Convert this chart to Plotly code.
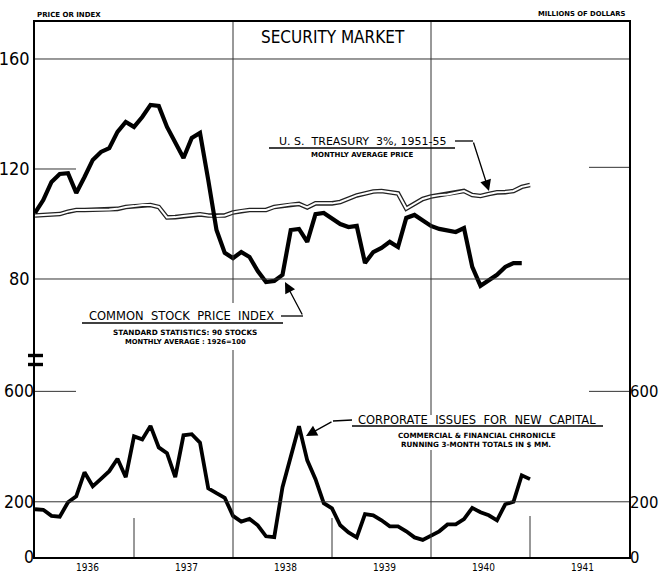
import plotly.graph_objects as go

# ---------------- data (monthly, starting January 1936) ----------------
start_year = 1936
year_labels = [1936, 1937, 1938, 1939, 1940, 1941]

stock_index = [104.0, 108.7, 115.3, 118.2, 118.5, 111.3, 117.1, 123.3, 126.2, 127.6, 133.5, 137.1,
               135.3, 138.9, 143.3, 142.9, 135.3, 129.8, 124.0, 131.3, 133.1, 116.0, 97.8, 89.5,
               87.6, 89.8, 88.0, 82.9, 78.9, 79.3, 81.5, 97.8, 98.2, 93.5, 103.6, 104.0,
               101.8, 100.0, 98.9, 99.3, 85.8, 89.8, 91.3, 93.5, 91.6, 102.2, 103.3, 101.5,
               99.3, 98.2, 97.5, 97.1, 98.5, 84.4, 77.5, 79.6, 81.5, 84.4, 85.8, 85.8]

treasury_price = [103.1, 103.3, 103.5, 103.6, 104.5, 105.1, 105.1, 105.1, 105.1, 105.3, 105.5, 106.2,
                  106.5, 106.9, 106.9, 106.2, 102.4, 102.5, 102.9, 103.3, 103.5, 103.1, 102.9, 103.1,
                  104.2, 104.7, 105.1, 105.1, 105.1, 106.2, 106.7, 107.1, 107.3, 106.0, 107.5, 107.5,
                  107.5, 108.0, 109.3, 110.4, 111.1, 111.8, 112.0, 111.6, 111.1, 105.6, 107.3, 109.1,
                  110.0, 110.5, 110.7, 111.3, 112.0, 110.5, 110.2, 110.9, 111.5, 111.6, 112.0, 113.5,
                  114.2]

corporate_issues = [173, 171, 149, 146, 198, 220, 307, 256, 283, 311, 356, 289,
                    437, 426, 475, 397, 376, 289, 441, 445, 414, 249, 231, 214,
                    149, 128, 138, 115, 75, 72, 253, 358, 474, 350, 282, 195,
                    176, 115, 89, 71, 155, 151, 133, 111, 111, 93, 71, 62,
                    79, 93, 118, 118, 137, 178, 162, 151, 133, 191, 200, 296,
                    282]

left_top_ticks = [80, 120, 160]
money_ticks = [0, 200, 600]


def months(n):
    return [start_year + i / 12 for i in range(n)]


# ---------------- geometry helpers (pixel -> paper) ----------------
W, H = 659, 576
L, R, T, B = 35, 629, 22, 557


def px(x):
    return (x - L) / (R - L)


def py(y):
    return (B - y) / (B - T)


fig = go.Figure()

# Treasury: double (outlined) line
fig.add_trace(go.Scatter(x=months(len(treasury_price)), y=treasury_price, mode="lines",
                         line=dict(color="#222222", width=4.6), hoverinfo="skip", showlegend=False))
fig.add_trace(go.Scatter(x=months(len(treasury_price)), y=treasury_price, mode="lines",
                         line=dict(color="white", width=2.0), hoverinfo="skip", showlegend=False))
# Common stock index
fig.add_trace(go.Scatter(x=months(len(stock_index)), y=stock_index, mode="lines",
                         line=dict(color="black", width=4.2), showlegend=False))
# Corporate issues
fig.add_trace(go.Scatter(x=months(len(corporate_issues)), y=corporate_issues, mode="lines",
                         yaxis="y2", line=dict(color="black", width=3.8), showlegend=False))
# invisible trace to anchor right axis
fig.add_trace(go.Scatter(x=months(len(corporate_issues)), y=corporate_issues, mode="lines",
                         yaxis="y3", line=dict(color="rgba(0,0,0,0)", width=0),
                         hoverinfo="skip", showlegend=False))

cond = "DejaVu Sans Condensed, Liberation Sans Narrow, sans-serif"
num_font = dict(family=cond, size=18, color="black")

fig.update_layout(
    width=W, height=H,
    margin=dict(l=L, r=W - R, t=T, b=H - B, autoexpand=False),
    paper_bgcolor="white", plot_bgcolor="white",
    xaxis=dict(range=[1936, 1942], showgrid=False, zeroline=False,
               showline=True, mirror=True, linecolor="black", linewidth=1.5,
               tickvals=[y + 0.53 for y in year_labels], ticktext=[str(y) for y in year_labels],
               ticks="", tickfont=dict(family=cond, size=10, color="black")),
    yaxis=dict(range=[-21.09, 173.45], showgrid=False, zeroline=False,
               showline=True, mirror=True, linecolor="black", linewidth=1.5,
               tickvals=left_top_ticks, ticktext=[str(v) for v in left_top_ticks],
               ticks="", tickfont=num_font),
    yaxis2=dict(range=[0, 1938], overlaying="y", side="left", showgrid=False, zeroline=False,
                showline=False, tickvals=money_ticks, ticktext=[str(v) for v in money_ticks],
                ticks="", tickfont=dict(num_font, size=17.5)),
    yaxis3=dict(range=[0, 1938], overlaying="y", side="right", showgrid=False, zeroline=False,
                showline=False, tickvals=money_ticks, ticktext=[str(v) for v in money_ticks],
                ticks="", tickfont=dict(num_font, size=16.5)),
)

grid = dict(color="#333333", width=1)
shapes = []
# full-width horizontal grid lines
for v in (80, 160):
    shapes.append(dict(type="line", xref="paper", yref="y", x0=0, x1=1, y0=v, y1=v, line=grid))
shapes.append(dict(type="line", xref="paper", yref="y2", x0=0, x1=1, y0=200, y1=200, line=grid))
# short horizontal ticks
shapes.append(dict(type="line", xref="paper", yref="y", x0=0, x1=px(76), y0=120, y1=120, line=grid))
shapes.append(dict(type="line", xref="paper", yref="y", x0=px(589), x1=1, y0=120.6, y1=120.6, line=grid))
shapes.append(dict(type="line", xref="paper", yref="y2", x0=0, x1=px(76), y0=600, y1=600, line=grid))
shapes.append(dict(type="line", xref="paper", yref="y3", x0=px(589), x1=1, y0=600, y1=600, line=grid))
# vertical grid lines (with gaps behind labels)
for (yr, segs) in ((1938, [(22, 303), (350, 557)]), (1940, [(22, 415), (450, 557)])):
    for a, b in segs:
        shapes.append(dict(type="line", xref="x", yref="paper", x0=yr, x1=yr, y0=py(a), y1=py(b), line=grid))
# short vertical ticks at base
for yr, top in ((1937, 518), (1939, 518), (1941, 516)):
    shapes.append(dict(type="line", xref="x", yref="paper", x0=yr, x1=yr, y0=py(top), y1=0, line=grid))
# scale-break marks
for yy in (355.5, 364.5):
    shapes.append(dict(type="rect", xref="paper", yref="paper", x0=px(28), x1=px(43),
                       y0=py(yy + 1.7), y1=py(yy - 1.7), fillcolor="black", line=dict(width=0)))
# label underlines and connectors
lbl = dict(color="black", width=1.3)
for (x0, y0, x1, y1) in ((269, 148, 455, 148), (455, 141, 473, 141),
                         (82, 323, 283, 323), (281, 316, 303, 316),
                         (352, 426, 603, 426), (333, 421, 352, 420)):
    shapes.append(dict(type="line", xref="paper", yref="paper", x0=px(x0), x1=px(x1),
                       y0=py(y0), y1=py(y1), line=lbl))
fig.update_layout(shapes=shapes)

ann_font = "DejaVu Sans, Liberation Sans, sans-serif"


def text(x, y, s, size, anchor="center", bold=False, family=ann_font):
    fig.add_annotation(x=px(x), y=py(y), xref="paper", yref="paper", showarrow=False,
                       text=("<b>%s</b>" % s) if bold else s, xanchor=anchor, yanchor="middle",
                       font=dict(family=family, size=size, color="black"))


def arrow(tx, ty, hx, hy):
    fig.add_annotation(x=px(hx), y=py(hy), xref="paper", yref="paper", text="",
                       showarrow=True, ax=tx - hx, ay=ty - hy, arrowhead=2, arrowsize=1.7,
                       arrowwidth=1.3, arrowcolor="black", standoff=0)


text(35, 15, "PRICE OR INDEX", 7, anchor="left", bold=True)
text(628, 14, "MILLIONS OF DOLLARS", 6.8, anchor="right", bold=True)
text(333, 37, "SECURITY MARKET", 17, family=cond)

text(362, 141, "U. S.  TREASURY  3%, 1951-55", 11)
text(362, 155, "MONTHLY AVERAGE PRICE", 7, bold=True)
arrow(473, 141, 489, 191)

text(181, 316, "COMMON  STOCK  PRICE  INDEX", 11.5)
text(185, 332, "STANDARD STATISTICS: 90 STOCKS", 7.3, bold=True)
text(185, 342, "MONTHLY AVERAGE : 1926=100", 6.8, bold=True)
arrow(303, 316, 285, 282)

text(477, 420, "CORPORATE  ISSUES  FOR  NEW  CAPITAL", 11.5)
text(477, 435, "COMMERCIAL &amp; FINANCIAL CHRONICLE", 7.2, bold=True)
text(476, 445, "RUNNING 3-MONTH TOTALS IN $ MM.", 7.2, bold=True)
arrow(333, 421, 306, 436)

fig.write_html("out.html", config={"displayModeBar": False},
               post_script="document.body.style.margin='0px';document.body.style.overflow='hidden';")
